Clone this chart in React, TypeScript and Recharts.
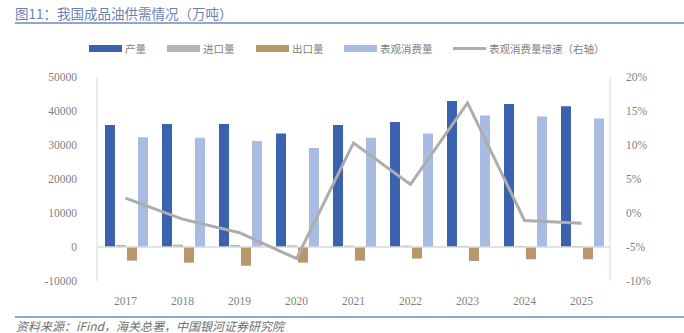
import React from 'react';
import {ComposedChart, Bar, Line, XAxis, YAxis, ReferenceLine} from 'recharts';

const years = ['2017', '2018', '2019', '2020', '2021', '2022', '2023', '2024', '2025'];
const output = [35900, 36200, 36200, 33350, 35900, 36800, 42950, 42050, 41400];
const imports = [600, 700, 600, 500, 400, 400, 300, 300, 300];
const exports = [-4000, -4600, -5500, -4600, -4000, -3400, -4100, -3600, -3600];
const consumption = [32300, 32100, 31200, 29100, 32100, 33400, 38700, 38400, 37800];
const growth = [2.2, -0.9, -2.9, -6.7, 10.3, 4.2, 16.2, -1.1, -1.5];

const leftTicks = [-10000, 0, 10000, 20000, 30000, 40000, 50000];
const rightTicks = [-10, -5, 0, 5, 10, 15, 20];

const data = years.map((y, i) => ({
    year: y,
    output: output[i],
    imports: imports[i],
    exports: exports[i],
    consumption: consumption[i],
    growth: growth[i],
}));

const cjk = '"Noto Sans CJK SC", "Noto Sans", sans-serif';
const tickStyle = {fontFamily: '"Liberation Serif", serif', fontSize: 11.5, fill: '#7f7f7f'};

// legend entries, left position of each swatch
const legendItems = [
    {name: '产量', color: '#3a62ae', x: 89, type: 'box'},
    {name: '进口量', color: '#b4b4b4', x: 167, type: 'box'},
    {name: '出口量', color: '#b8976a', x: 256, type: 'box'},
    {name: '表观消费量', color: '#a8bce3', x: 344, type: 'box'},
    {name: '表观消费量增速（右轴）', color: '#adadad', x: 453, type: 'line'},
];

export default function App() {
    return (
        <div style={{position: 'absolute', left: 0, top: 0, width: 684, height: 333, overflow: 'hidden', background: '#fff'}}>
            <div style={{position: 'absolute', left: 15, top: 3, fontFamily: cjk, fontSize: 13.5, color: '#6a82b2', whiteSpace: 'nowrap'}}>
                图11：我国成品油供需情况（万吨）
            </div>
            <div style={{position: 'absolute', left: 15, top: 22, width: 669, height: 2, background: '#8fa6cf'}}/>

            {legendItems.map((it) => (
                <div key={it.name} style={{position: 'absolute', left: it.x, top: 40, height: 16, display: 'flex', alignItems: 'center', whiteSpace: 'nowrap'}}>
                    {it.type === 'box'
                        ? <span style={{display: 'inline-block', width: 33, height: 7, background: it.color}}/>
                        : <span style={{display: 'inline-block', width: 33, height: 3, background: it.color}}/>}
                    <span style={{fontFamily: cjk, fontSize: 10.5, color: '#808080', marginLeft: 3}}>{it.name}</span>
                </div>
            ))}

            <ComposedChart
                width={684}
                height={333}
                data={data}
                margin={{top: 77, right: 0, bottom: 22, left: 0}}
                barCategoryGap={8}
                barGap={1}
            >
                <XAxis dataKey="year" axisLine={false} tickLine={false} tick={tickStyle} tickMargin={10} height={30}/>
                <YAxis yAxisId="left" width={97} domain={[-10000, 50000]} ticks={leftTicks}
                       axisLine={{stroke: '#d9d9d9'}} tickLine={false} tick={tickStyle} tickMargin={14}/>
                <YAxis yAxisId="right" orientation="right" width={74} domain={[-10, 20]} ticks={rightTicks}
                       tickFormatter={(v: number) => v + '%'}
                       axisLine={{stroke: '#d9d9d9'}} tickLine={false} tick={tickStyle} tickMargin={10}/>
                <ReferenceLine yAxisId="left" y={0} stroke="#d9d9d9" strokeWidth={1.5}/>
                <Bar yAxisId="left" dataKey="output" name="产量" fill="#3a62ae" isAnimationActive={false}/>
                <Bar yAxisId="left" dataKey="imports" name="进口量" fill="#b4b4b4" isAnimationActive={false}/>
                <Bar yAxisId="left" dataKey="exports" name="出口量" fill="#b8976a" isAnimationActive={false}/>
                <Bar yAxisId="left" dataKey="consumption" name="表观消费量" fill="#a8bce3" isAnimationActive={false}/>
                <Line yAxisId="right" dataKey="growth" name="表观消费量增速（右轴）" type="linear" stroke="#adadad"
                      strokeWidth={3} dot={false} isAnimationActive={false}/>
            </ComposedChart>

            <div style={{position: 'absolute', left: 15, top: 316, width: 669, height: 2, background: '#8fa6cf'}}/>
            <div style={{position: 'absolute', left: 16, top: 319, fontFamily: cjk, fontSize: 12, lineHeight: '14px', fontStyle: 'italic', color: '#6e6e6e', whiteSpace: 'nowrap'}}>
                资料来源：iFind，海关总署，中国银河证券研究院
            </div>
        </div>
    );
}
